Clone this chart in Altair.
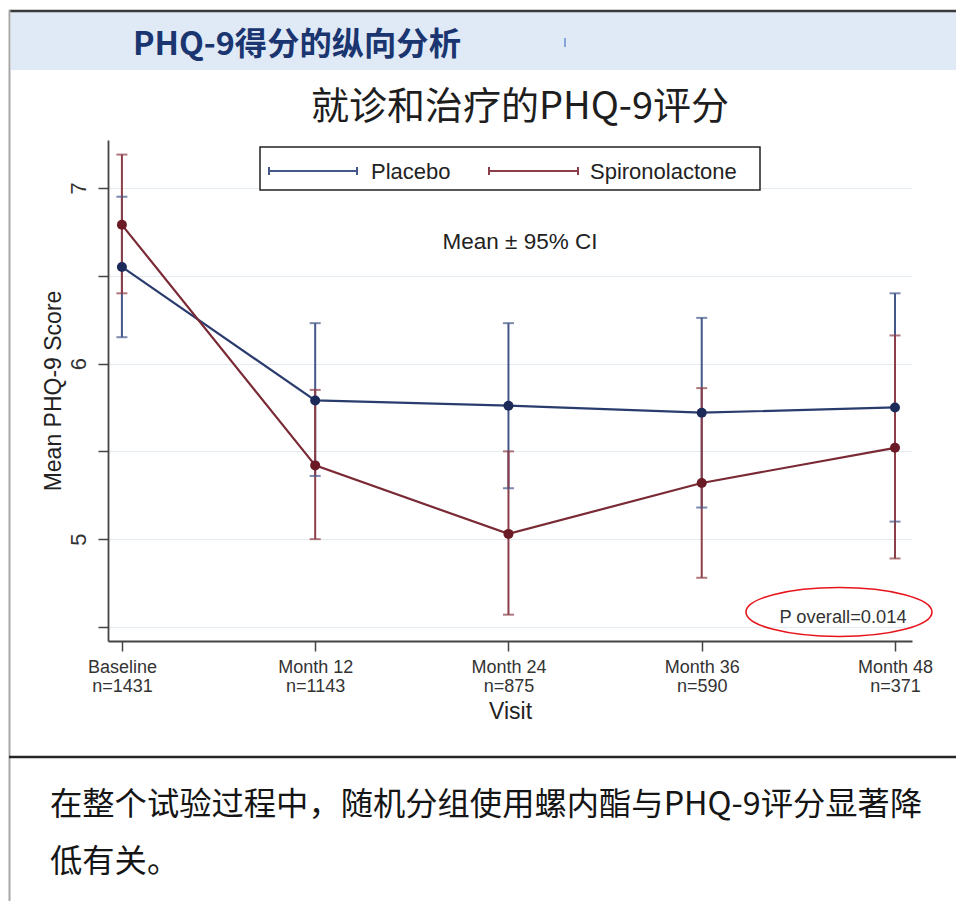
import json
import altair as alt
import pandas as pd

# ---------------- data ----------------
visits = ["Baseline", "Month 12", "Month 24", "Month 36", "Month 48"]
n_counts = ["n=1431", "n=1143", "n=875", "n=590", "n=371"]
series_names = ["Placebo", "Spironolactone"]

placebo_mean = [6.55, 5.79, 5.76, 5.72, 5.75]
placebo_lo = [6.15, 5.36, 5.29, 5.18, 5.10]
placebo_hi = [6.95, 6.23, 6.23, 6.26, 6.40]

spiro_mean = [6.79, 5.42, 5.03, 5.32, 5.52]
spiro_lo = [6.40, 5.00, 4.57, 4.78, 4.89]
spiro_hi = [7.19, 5.85, 5.50, 5.86, 6.16]

y_ticks = [4.5, 5.0, 5.5, 6.0, 6.5, 7.0]

header_text = "PHQ-9得分的纵向分析"
title_text = "就诊和治疗的PHQ-9评分"
subtitle_text = "Mean ± 95% CI"
p_text = "P overall=0.014"
y_title = "Mean PHQ-9 Score"
x_title = "Visit"
bottom_line1 = "在整个试验过程中，随机分组使用螺内酯与PHQ-9评分显著降"
bottom_line2 = "低有关。"

rows = []
for name, m, lo, hi in [("Placebo", placebo_mean, placebo_lo, placebo_hi),
                        ("Spironolactone", spiro_mean, spiro_lo, spiro_hi)]:
    for i in range(len(visits)):
        rows.append({"idx": i, "series": name, "mean": m[i], "lo": lo[i], "hi": hi[i]})
df = pd.DataFrame(rows)
one = pd.DataFrame({"k": [0]})

# ---------------- styles ----------------
LAT = "Liberation Sans"
CJK = "Noto Sans CJK SC"
bar_colors = ["#44578a", "#8c3e48"]
line_colors = ["#2a3c6e", "#7a2a34"]
point_colors = ["#1b2a58", "#6a1b26"]

x_labels_expr = json.dumps([[v, n] for v, n in zip(visits, n_counts)]) + "[datum.value]"

x_enc = alt.X(
    "idx:Q",
    scale=alt.Scale(domain=[-0.072, 4.088], nice=False, zero=False),
    axis=alt.Axis(
        values=list(range(len(visits))), labelExpr=x_labels_expr, title=x_title,
        grid=False, tickSize=10, tickColor="#444", tickWidth=1.5,
        domainColor="#444", domainWidth=1.8,
        labelFont=LAT, labelFontSize=18, labelColor="#333", labelLineHeight=19,
        labelPadding=7, labelFlush=False, labelOverlap=False, labelBound=False,
        titleFont=LAT, titleFontSize=23, titleFontWeight="normal", titleColor="#222",
        titlePadding=5,
    ),
)

y_axis = alt.Axis(
    values=y_ticks, labelExpr="datum.value % 1 == 0 ? '' + datum.value : ''",
    title=y_title, grid=True, gridColor="#e3ebf1", gridWidth=1.2,
    tickSize=10, tickColor="#444", tickWidth=1.5, domainColor="#444", domainWidth=1.8,
    labelAngle=270, labelFont=LAT, labelFontSize=22, labelColor="#333",
    labelPadding=8, labelOverlap=False, labelFlush=False,
    titleFont=LAT, titleFontSize=23, titleFontWeight="normal", titleColor="#222",
    titlePadding=2,
)
y_scale = alt.Scale(domain=[4.42, 7.273], nice=False, zero=False)


def col(rng):
    return alt.Color("series:N", scale=alt.Scale(domain=series_names, range=rng), legend=None)


base = alt.Chart(df)

bars = base.mark_rule(strokeWidth=2).encode(
    x=x_enc, y=alt.Y("lo:Q", scale=y_scale, axis=y_axis), y2="hi:Q", color=col(bar_colors))
caps_lo = base.mark_tick(orient="horizontal", size=11, thickness=2).encode(
    x=x_enc, y=alt.Y("lo:Q", scale=y_scale, axis=y_axis), color=col(bar_colors))
caps_hi = base.mark_tick(orient="horizontal", size=11, thickness=2).encode(
    x=x_enc, y=alt.Y("hi:Q", scale=y_scale, axis=y_axis), color=col(bar_colors))
lines = base.mark_line(strokeWidth=2.2).encode(
    x=x_enc, y=alt.Y("mean:Q", scale=y_scale, axis=y_axis), color=col(line_colors))
points = base.mark_circle(size=100, opacity=1).encode(
    x=x_enc, y=alt.Y("mean:Q", scale=y_scale, axis=y_axis), color=col(point_colors))

ann = alt.Chart(one)


def hrule(x1, x2, y, color, w):
    return ann.mark_rule(color=color, strokeWidth=w).encode(
        x=alt.value(x1), x2=alt.value(x2), y=alt.value(y))


def vrule(x, y1, y2, color, w):
    return ann.mark_rule(color=color, strokeWidth=w).encode(
        x=alt.value(x), y=alt.value(y1), y2=alt.value(y2))


def text(t, x, y, size, font=LAT, color="#222", align="left", weight="normal"):
    return ann.mark_text(font=font, fontSize=size, color=color, align=align,
                         baseline="middle", fontWeight=weight).encode(
        x=alt.value(x), y=alt.value(y), text=alt.value(t))


# slide frame
header_band = ann.mark_rect(color="#dfeaf6").encode(
    x=alt.value(-97), x2=alt.value(860), y=alt.value(-128), y2=alt.value(-70))
top_border = hrule(-99, 860, -129, "#3a3a3a", 2.5)
left_border = vrule(-98.5, -130, 780, "#a8a8a8", 2)
separator = hrule(-99, 860, 617, "#262626", 2.5)
blue_mark = vrule(457, -102, -93, "#4a78c8", 1.2)

header = text(header_text, 25, -95, 32.3, font=CJK, color="#1a3570", weight="bold")
title = text(title_text, 412, -32, 38, font=CJK, color="#1e1e1e", align="center")
bottom1 = text(bottom_line1, -58, 665, 32.3, font=CJK, color="#151515")
bottom2 = text(bottom_line2, -58, 722, 32.3, font=CJK, color="#151515")

# legend box
legend_box = ann.mark_rect(fill="white", stroke="#222", strokeWidth=1.5).encode(
    x=alt.value(152), x2=alt.value(652), y=alt.value(7), y2=alt.value(50))
leg = []
for (x1, x2, tx, name, c) in [(161, 249, 263, series_names[0], bar_colors[0]),
                               (381, 470, 482, series_names[1], bar_colors[1])]:
    leg.append(hrule(x1, x2, 31, c, 2))
    leg.append(vrule(x1, 27, 35, c, 2))
    leg.append(vrule(x2, 27, 35, c, 2))
    leg.append(text(name, tx, 32, 22))

subtitle = text(subtitle_text, 412, 102, 22.5, align="center")

ellipse = ann.mark_point(
    shape="M -1 0 A 1 0.2634 0 1 1 1 0 A 1 0.2634 0 1 1 -1 0 Z",
    size=186 * 186, filled=False, color="#e8141c", strokeWidth=1.6, opacity=1,
).encode(x=alt.value(731), y=alt.value(472))
p_label = text(p_text, 735, 478, 18.3, align="center", color="#333")

chart = alt.layer(
    header_band, top_border, left_border, separator, blue_mark,
    header, title, bottom1, bottom2,
    bars, caps_lo, caps_hi, lines, points,
    legend_box, *leg, subtitle, ellipse, p_label,
).resolve_scale(color="independent").properties(
    width=804, height=501,
    padding={"left": 100, "top": 132, "right": 44, "bottom": 260},
    autosize=alt.AutoSizeParams(type="none"),
    background="white",
).configure_view(stroke=None)

chart.save("out.html", embed_options={"renderer": "svg", "actions": False})
